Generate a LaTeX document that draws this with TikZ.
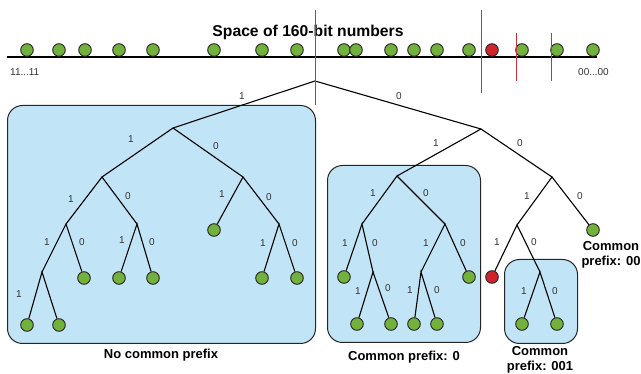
\documentclass[tikz,border=0pt]{standalone}
\usepackage{fontspec}
\setmainfont{Liberation Sans}
\definecolor{leafgreen}{RGB}{114,178,60}
\definecolor{badred}{RGB}{208,36,44}
\definecolor{boxblue}{RGB}{193,228,246}
\definecolor{cutred}{RGB}{200,50,62}
\begin{document}
\begin{tikzpicture}[x=1pt,y=-1pt,
  leaf/.style={circle,draw=black!85,fill=leafgreen,minimum size=12.6pt,inner sep=0pt,line width=0.9pt},
  badleaf/.style={leaf,fill=badred},
  edge/.style={line width=1.1pt,black},
  lbl/.style={font=\fontsize{10}{12}\selectfont,text=black!80,inner sep=0pt},
  captxt/.style={font=\fontsize{13}{15}\selectfont\bfseries,inner sep=0pt,align=center},
  groupbox/.style={draw=black!85,fill=boxblue,rounded corners=15pt,line width=1pt,inner sep=0pt,anchor=north west},
  cutline/.style={draw=cutred,line width=1.3pt}]
\useasboundingbox (0,0) rectangle (641,374);
% title and number line
\node[font=\fontsize{15.7}{18}\selectfont\bfseries,inner sep=0pt] (title) at (308,32) {Space of 160-bit numbers};
\coordinate (lineL) at (7,57);
\coordinate (lineR) at (597,57);
\draw[edge] (lineL) -- (lineR);
\node[lbl,anchor=west] (lo) at (10,72) {11...11};
\node[lbl,anchor=east] (hi) at (609,72) {00...00};
\foreach \x [count=\i] in {27,59,85,119,153,214,262,297,344,356,391,414,437,469,522,557,593}
  \node[leaf] (t\i) at (\x,50) {};
\node[badleaf] (tr) at (492,50) {};
% cut lines
\coordinate (c1a) at (315.5,10); \coordinate (c1b) at (315.5,105);
\coordinate (c2a) at (481.5,10); \coordinate (c2b) at (481.5,93);
\coordinate (c3a) at (516.5,33); \coordinate (c3b) at (516.5,81);
\coordinate (c4a) at (551.5,33); \coordinate (c4b) at (551.5,81);
% boxes
\node[groupbox,minimum width=308pt,minimum height=238pt] (boxA) at (7,105) {};
\node[groupbox,minimum width=153pt,minimum height=177pt] (boxB) at (327,165) {};
\node[groupbox,minimum width=73pt,minimum height=84pt] (boxC) at (504,259) {};
% tree coordinates
\coordinate (r) at (315,81);
\coordinate (n1) at (173,128);
\coordinate (n0) at (481,129);
\coordinate (n11) at (102,177);
\coordinate (n10) at (243,177);
\coordinate (n111) at (66,224);
\coordinate (n110) at (137,224);
\coordinate (n100) at (279,224);
\coordinate (n1111) at (42,272);
\coordinate (n01) at (397,176);
\coordinate (n00) at (552,177);
\coordinate (n011) at (362,224);
\coordinate (n010) at (445,224);
\coordinate (n0110) at (373,272);
\coordinate (n0101) at (421,272);
\coordinate (n001) at (517,225);
\coordinate (n0010) at (540,272);
% leaves
\node[leaf] (a1) at (214,230) {};
\node[leaf] (a2) at (84,278) {};
\node[leaf] (a3) at (119,278) {};
\node[leaf] (a4) at (153,278) {};
\node[leaf] (a5) at (262,278) {};
\node[leaf] (a6) at (297,278) {};
\node[leaf] (a7) at (27,325) {};
\node[leaf] (a8) at (59,325) {};
\node[leaf] (b1) at (344,277) {};
\node[leaf] (b2) at (357,324) {};
\node[leaf] (b3) at (391,324) {};
\node[leaf] (b4) at (414,324) {};
\node[leaf] (b5) at (437,324) {};
\node[leaf] (b6) at (469,277) {};
\node[leaf] (d1) at (593,230) {};
\node[badleaf] (d2) at (492,277) {};
\node[leaf] (e1) at (522,324) {};
\node[leaf] (e2) at (557,324) {};
% edges
\draw[edge] (n1) -- (r) -- (n0);
\draw[edge] (n11) -- (n1) -- (n10);
\draw[edge] (n111) -- (n11) -- (n110);
\draw[edge] (a1) -- (n10) -- (n100);
\draw[edge] (n1111) -- (n111) -- (a2);
\draw[edge] (a3) -- (n110) -- (a4);
\draw[edge] (a5) -- (n100) -- (a6);
\draw[edge] (a7) -- (n1111) -- (a8);
\draw[edge] (n01) -- (n0) -- (n00);
\draw[edge] (n011) -- (n01) -- (n010);
\draw[edge] (b1) -- (n011) -- (n0110);
\draw[edge] (b2) -- (n0110) -- (b3);
\draw[edge] (n0101) -- (n010) -- (b6);
\draw[edge] (b4) -- (n0101) -- (b5);
\draw[edge] (n001) -- (n00) -- (d1);
\draw[edge] (d2) -- (n001) -- (n0010);
\draw[edge] (e1) -- (n0010) -- (e2);
% cut lines on top
\draw[cutline] (c1a) -- (c1b);
\draw[cutline] (c2a) -- (c2b);
\draw[cutline] (c3a) -- (c3b);
\draw[cutline] (c4a) -- (c4b);
% edge labels
\foreach \x/\y/\t in {242/96/1,399/96/0,131/139/1,216/146/0,71/199/1,128/196/0,222/194/1,269/197/0,
  47/242/1,82/242/0,122/240/1,152/242/0,263/243/1,295/243/0,19/294/1,
  436/143/1,520/143/0,373/193/1,426/193/0,345/243/1,375/243/0,358/291/1,388/288/0,
  426/243/1,463/243/0,410/290/1,437/290/0,527/196/1,580/196/0,497/242/1,534/242/0,524/291/1,555/291/0}
  \node[lbl] at (\x,\y) {\t};
% captions
\node[captxt] (capA) at (161,355) {No common prefix};
\node[captxt] (capB) at (404,357) {Common prefix: 0};
\node[captxt] (capC) at (540,360) {Common\\prefix: 001};
\node[captxt] (capD) at (611,255) {Common\\prefix: 00};
\end{tikzpicture}
\end{document}
